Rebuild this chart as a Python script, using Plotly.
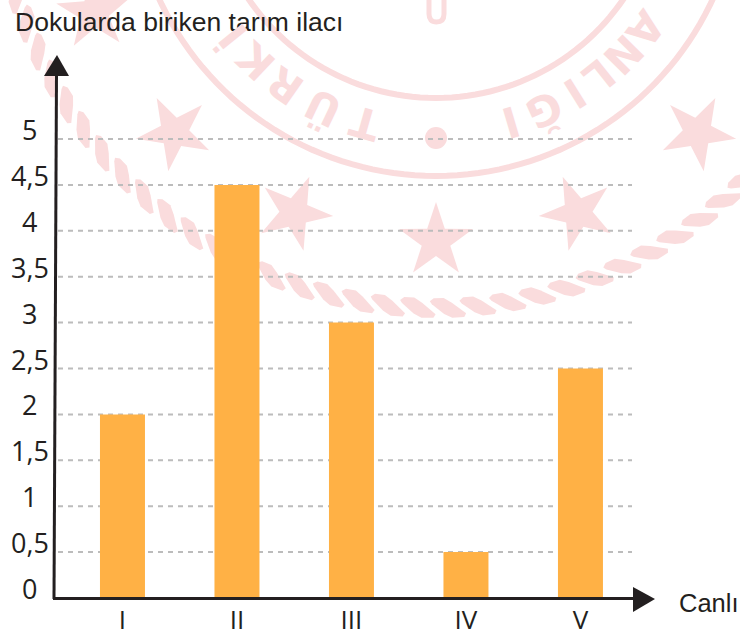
import math
import plotly.graph_objects as go

categories = ["I", "II", "III", "IV", "V"]
values = [2, 4.5, 3, 0.5, 2.5]
y_ticks = [0, 0.5, 1, 1.5, 2, 2.5, 3, 3.5, 4, 4.5, 5]
y_tick_labels = ["0", "0,5", "1", "1,5", "2", "2,5", "3", "3,5", "4", "4,5", "5"]
y_title = "Dokularda biriken tarım ilacı"
x_title = "Canlı"
seal_letters = [("T", -15.8), ("Ü", -25.5), ("R", -35), ("K", -43.5), ("İ", -51),
                ("I", 16.5), ("Ğ", 24.5), ("I", 32), ("L", 38.5), ("N", 45.5), ("A", 53)]

W, H = 740, 637
L, R_, T, B = 54, 655, 55, 598
INK = "#231f20"
WM = "#fadcdd"
GRID = "#bcbcbc"
FONT = "Open Sans"
ARIAL = "Liberation Sans"


def px(x):
    return (x - L) / (R_ - L)


def py(y):
    return (B - y) / (B - T)


def path(points, close=True):
    s = "M " + " L ".join(f"{px(x):.5f},{py(y):.5f}" for x, y in points)
    return s + (" Z" if close else "")


def poly_shape(points, color, layer="below"):
    return dict(type="path", xref="paper", yref="paper", path=path(points),
                fillcolor=color, line=dict(width=0), layer=layer)


CX, CY = 436, -129
shapes = []


def ring(radius, width):
    pts = [(CX + radius * math.sin(math.radians(a)), CY + radius * math.cos(math.radians(a)))
           for a in range(-90, 91, 2)]
    return dict(type="path", xref="paper", yref="paper", path=path(pts, close=False),
                line=dict(color=WM, width=width), layer="below")


shapes += [ring(227, 6), ring(305, 6)]

for a in (-67.5, -45, -22.5, 0, 22.5, 45):
    th = math.radians(a)
    sx, sy = CX + 370 * math.sin(th), CY + 370 * math.cos(th)
    pts = []
    for k in range(10):
        r = 39 if k % 2 == 0 else 15
        ang = th + k * math.pi / 5
        pts.append((sx - r * math.sin(ang), sy - r * math.cos(ang)))
    shapes.append(poly_shape(pts, WM))

blob = [(-18, -7), (-14, -10), (-4, -10), (4, -5), (18, 6), (16, 9.5), (4, 10), (-4, 6), (-16, -4)]
for k in range(-22, 15):
    a = 1.57 + 3.95 * k
    th = math.radians(a)
    bx, by = CX + 437 * math.sin(th), CY + 437 * math.cos(th)
    ux, uy = math.cos(th), -math.sin(th)
    nx, ny = math.sin(th), math.cos(th)
    pts = [(bx + t * ux + n * nx, by + t * uy + n * ny) for t, n in blob]
    shapes.append(poly_shape(pts, WM))

shapes.append(dict(type="circle", xref="paper", yref="paper",
                   x0=px(425), x1=px(447), y0=py(149), y1=py(127),
                   fillcolor=WM, line=dict(width=0), layer="below"))
shapes.append(dict(type="path", xref="paper", yref="paper",
                   path=f"M {px(429):.5f},{py(-2):.5f} L {px(429):.5f},{py(14):.5f} "
                        f"Q {px(429):.5f},{py(22):.5f} {px(436.5):.5f},{py(22):.5f} "
                        f"Q {px(444):.5f},{py(22):.5f} {px(444):.5f},{py(14):.5f} "
                        f"L {px(444):.5f},{py(-2):.5f}",
                   line=dict(color=WM, width=5), layer="below"))

for v in y_ticks[1:]:
    shapes.append(dict(type="line", xref="paper", yref="y", x0=px(58), x1=px(632), y0=v, y1=v,
                       line=dict(color=GRID, width=2, dash="5px,5px"), layer="below"))

shapes.append(dict(type="line", xref="paper", yref="paper", x0=px(53), x1=px(636), y0=py(598.5), y1=py(598.5),
                   line=dict(color=INK, width=3), layer="above"))
shapes.append(dict(type="line", xref="paper", yref="paper", x0=px(54), x1=px(56.5), y0=py(599), y1=py(74),
                   line=dict(color=INK, width=3), layer="above"))
shapes.append(poly_shape([(633, 587), (655, 599), (633, 612)], INK, "above"))
shapes.append(poly_shape([(44, 76), (57, 55), (69, 76)], INK, "above"))

annotations = []
for lab, v in zip(y_tick_labels, y_ticks):
    annotations.append(dict(text=lab, xref="paper", yref="y", x=px(29.5), y=v, yshift=9.5,
                            showarrow=False, xanchor="center", yanchor="middle",
                            font=dict(family=FONT, size=27, color=INK)))
annotations.append(dict(text=y_title, xref="paper", yref="paper", x=px(13), y=py(22),
                        showarrow=False, xanchor="left", yanchor="middle",
                        font=dict(family=ARIAL, size=26.5, color=INK)))
annotations.append(dict(text=x_title, xref="paper", yref="paper", x=px(677), y=py(603),
                        showarrow=False, xanchor="left", yanchor="middle",
                        font=dict(family=ARIAL, size=25.5, color=INK)))
for ch, a in seal_letters:
    th = math.radians(a)
    annotations.append(dict(text=f"<b>{ch}</b>", xref="paper", yref="paper",
                            x=px(CX + 262 * math.sin(th)), y=py(CY + 262 * math.cos(th)),
                            showarrow=False, textangle=180 - a, xanchor="center", yanchor="middle",
                            font=dict(family="DejaVu Sans", size=42, color=WM)))

fig = go.Figure(go.Bar(x=categories, y=values, marker=dict(color="#ffb145", line=dict(width=0)), width=0.393))
fig.update_layout(
    width=W, height=H, autosize=False,
    margin=dict(l=L, r=W - R_, t=T, b=H - B, pad=0),
    paper_bgcolor="white", plot_bgcolor="rgba(0,0,0,0)",
    showlegend=False, shapes=shapes, annotations=annotations,
    xaxis=dict(type="category", categoryorder="array", categoryarray=categories,
               range=[-0.598, 4.651], showgrid=False, zeroline=False, showline=False,
               ticks="", ticklabelstandoff=4, automargin=False,
               tickfont=dict(family=FONT, size=26, color=INK)),
    yaxis=dict(range=[0, (B - T) / 91.8], showgrid=False, zeroline=False, showline=False,
               showticklabels=False, ticks="", automargin=False),
)
fig.write_html("out.html", config=dict(displayModeBar=False),
               post_script="document.body.style.margin='0';document.body.style.overflow='hidden';")
